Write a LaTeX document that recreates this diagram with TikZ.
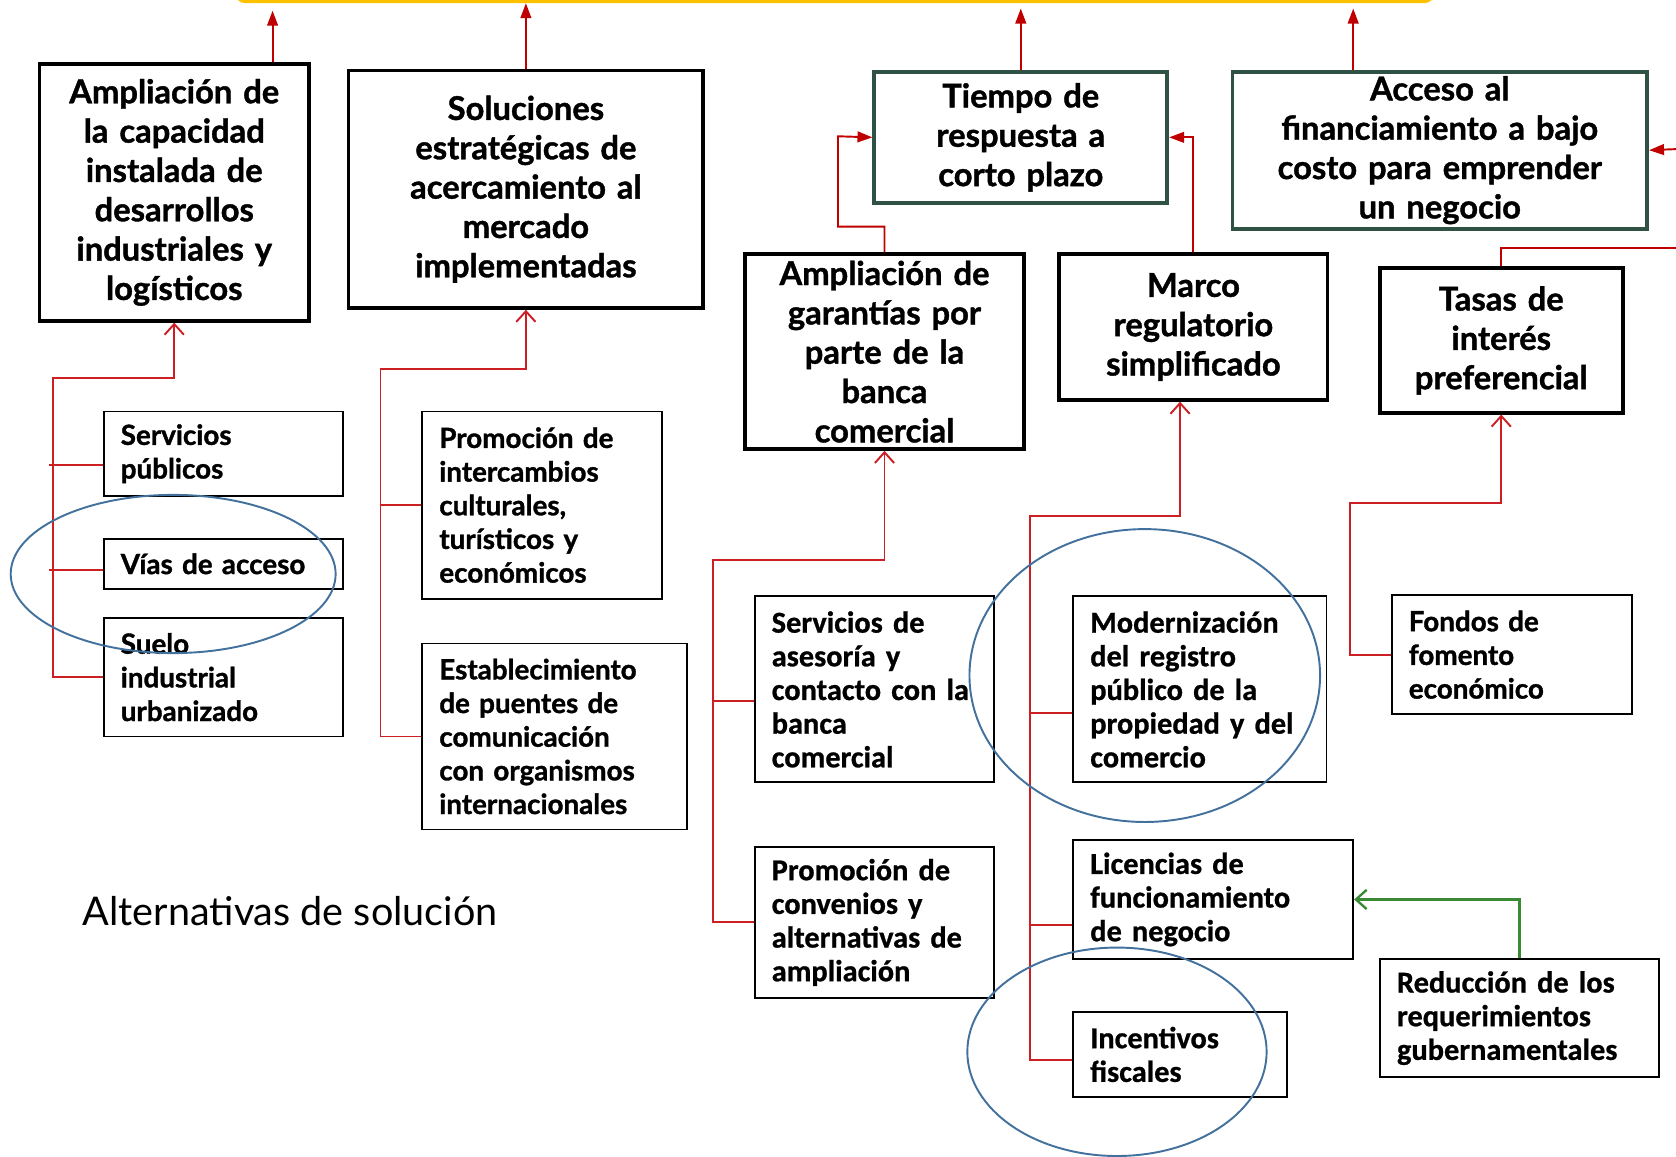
\documentclass[tikz,border=0pt]{standalone}
\usepackage{fontspec}
\setmainfont{Lato}[BoldFeatures={FakeBold=1.2}]
\newfontfamily\condfont{Carlito}[BoldFeatures={FakeBold=0.8}]
\usetikzlibrary{arrows.meta}
\definecolor{arrred}{HTML}{C00000}
\definecolor{treered}{HTML}{CC1F24}
\definecolor{dkgreen}{HTML}{2F5245}
\definecolor{arrgreen}{HTML}{3A8A35}
\definecolor{ellblue}{HTML}{41719C}
\definecolor{barcolor}{HTML}{FFC000}
\tikzset{
  bigbox/.style={draw=black, line width=1.8pt, align=center, inner sep=1pt,
    font=\bfseries\fontsize{15.3}{18.4}\selectfont},
  greenbox/.style={bigbox, draw=dkgreen},
  smallbox/.style={draw=black, line width=0.9pt, align=left, inner xsep=8pt, inner ysep=1pt,
    font=\bfseries\fontsize{13}{15.75}\selectfont},
  condbox/.style={smallbox, font=\condfont\bfseries\fontsize{14.2}{15.75}\selectfont},
  toparrow/.style={draw=arrred, line width=0.9pt, -{Triangle[length=7pt,width=5pt]}},
  tree/.style={draw=treered, line width=0.9pt},
  barb/.style={-{Straight Barb[length=5pt,width=9pt]}},
  greenline/.style={draw=arrgreen, line width=1.1pt},
  ell/.style={draw=ellblue, line width=0.9pt},
  topbar/.style={draw=barcolor, line width=3pt, rounded corners=4pt}
}
\begin{document}
\begin{tikzpicture}[x=0.5pt,y=-0.5pt]
\useasboundingbox (0,0) rectangle (1568,1082);
\fill[white] (0,0) rectangle (1568,1082);
% yellow bar at top
\draw[topbar] (222,-30) -- (222,0) -- (1340,0) -- (1340,-30);

% top boxes
\node[bigbox, minimum width=126pt, minimum height=120pt, text width=120pt] (A) at (163,180)
  {Ampliación de\\la capacidad\\instalada de\\desarrollos\\industriales y\\logísticos};
\node[bigbox, minimum width=166pt, minimum height=111pt, text width=160pt] (B) at (492,177)
  {Soluciones\\estratégicas de\\acercamiento al\\mercado\\implementadas};
\node[greenbox, minimum width=137pt, minimum height=61.5pt, text width=131pt] (C) at (955,128.5)
  {Tiempo de\\respuesta a\\corto plazo};
\node[greenbox, minimum width=194pt, minimum height=73.5pt, text width=188pt] (D) at (1347,140.5)
  {Acceso al\\financiamiento a bajo\\costo para emprender\\un negocio};
\node[bigbox, minimum width=130.5pt, minimum height=91pt, text width=125pt] (E) at (827.5,329)
  {Ampliación de\\garantías por\\parte de la\\banca\\comercial};
\node[bigbox, minimum width=125.5pt, minimum height=68pt, text width=120pt] (F) at (1116.5,306)
  {Marco\\regulatorio\\simplificado};
\node[bigbox, minimum width=113.5pt, minimum height=67.5pt, text width=108pt] (G) at (1404.5,318.5)
  {Tasas de\\interés\\preferencial};

% small boxes
\node[smallbox, minimum width=112pt, minimum height=39.5pt, text width=96pt] (H1) at (209,424.5)
  {Servicios\\públicos};
\node[smallbox, minimum width=112pt, minimum height=23.5pt, text width=96pt] (H2) at (209,527.5)
  {Vías de acceso};
\node[smallbox, minimum width=112pt, minimum height=55.5pt, text width=96pt] (H3) at (209,633.5)
  {Suelo\\industrial\\urbanizado};
\node[smallbox, minimum width=112pt, minimum height=87.5pt, text width=96pt] (I1) at (507,472.5)
  {Promoción de\\intercambios\\culturales,\\turísticos y\\económicos};
\node[smallbox, minimum width=124pt, minimum height=87pt, text width=108pt] (I2) at (519,689)
  {Establecimiento\\de puentes de\\comunicación\\con organismos\\internacionales};
\node[condbox, minimum width=112pt, minimum height=87pt, text width=96pt] (J1) at (818,645)
  {Servicios de\\asesoría y\\contacto con la\\banca\\comercial};
\node[condbox, minimum width=112pt, minimum height=71pt, text width=96pt] (J2) at (818,863)
  {Promoción de\\convenios y\\alternativas de\\ampliación};
\node[condbox, minimum width=118.5pt, minimum height=87pt, text width=102.5pt] (K1) at (1122.5,645)
  {Modernización\\del registro\\público de la\\propiedad y del\\comercio};
\node[condbox, minimum width=131pt, minimum height=55.5pt, text width=115pt] (K2) at (1135,841.5)
  {Licencias de\\funcionamiento\\de negocio};
\node[condbox, minimum width=100pt, minimum height=39.5pt, text width=84pt] (K3) at (1104,986.5)
  {Incentivos\\fiscales};
\node[smallbox, minimum width=112.5pt, minimum height=55.5pt, text width=96.5pt] (L) at (1414.5,612.5)
  {Fondos de\\fomento\\económico};
\node[condbox, minimum width=130.5pt, minimum height=55.5pt, text width=114.5pt] (M) at (1421.5,952.5)
  {Reducción de los\\requerimientos\\gubernamentales};

\node[anchor=west, inner sep=0pt, font=\fontsize{18.5}{21}\selectfont] (T) at (77,852) {Alternativas de solución};

% arrows to the top bar
\coordinate (tA) at (255,10);
\coordinate (tB) at (492,3);
\coordinate (tC) at (955,8);
\coordinate (tD) at (1266,8);
\draw[toparrow] ([xshift=46pt]A.north) -- (tA);
\draw[toparrow] (B.north) -- (tB);
\draw[toparrow] (C.north) -- (tC);
\draw[toparrow] ([xshift=-40.5pt]D.north) -- (tD);
\coordinate (rin) at (1568,139.5);
\draw[toparrow] (rin) -- (D.east);
\coordinate (rout) at (1568,232);
\draw[toparrow, -] (G.north) -- (1404.5,232) -- (rout);

% E and F to C
\draw[toparrow] (E.north) -- (827.5,212) -- (784,212) -- (784,127.5) -- (C.west);
\draw[toparrow] (F.north) |- (C.east);

% left tree
\draw[tree, barb] (H3.west) -- (50,633.5) -- (50,354) -- (163,354) -- (A.south);
\draw[tree] ([yshift=-5.25pt]H1.west) -- ++(-50,0);
\draw[tree] ([yshift=-2.75pt]H2.west) -- ++(-50,0);

% I tree
\draw[tree, barb] (I2.west) -- (356,689) -- (356,345) -- (492,345) -- (B.south);
\draw[tree] (I1.west) -- ++(-39,0);

% J tree
\draw[tree, barb] (J2.west) -- (667,863) -- (667,524) -- (827.5,524) -- (E.south);
\draw[tree] ([yshift=-5.5pt]J1.west) -- ++(-39,0);

% K tree
\draw[tree, barb] ([yshift=-2.75pt]K3.west) -- (964,992) -- (964,483) -- (1104,483) -- ([xshift=-6.25pt]F.south);
\draw[tree] ([yshift=-11pt]K1.west) -- ++(-40,0);
\draw[tree] ([yshift=-11.75pt]K2.west) -- ++(-40,0);

% L tree
\draw[tree, barb] (L.west) -- (1263,612.5) -- (1263,471) -- (1404.5,471) -- (G.south);

% green arrow
\draw[greenline, barb] (M.north) |- (K2.east);

% ellipses
\draw[ell] (162,537) ellipse [x radius=76pt, y radius=37pt];
\draw[ell] (1071,632) ellipse [x radius=82pt, y radius=68.5pt];
\draw[ell] (1045,984) ellipse [x radius=70pt, y radius=48.75pt];
\end{tikzpicture}
\end{document}
